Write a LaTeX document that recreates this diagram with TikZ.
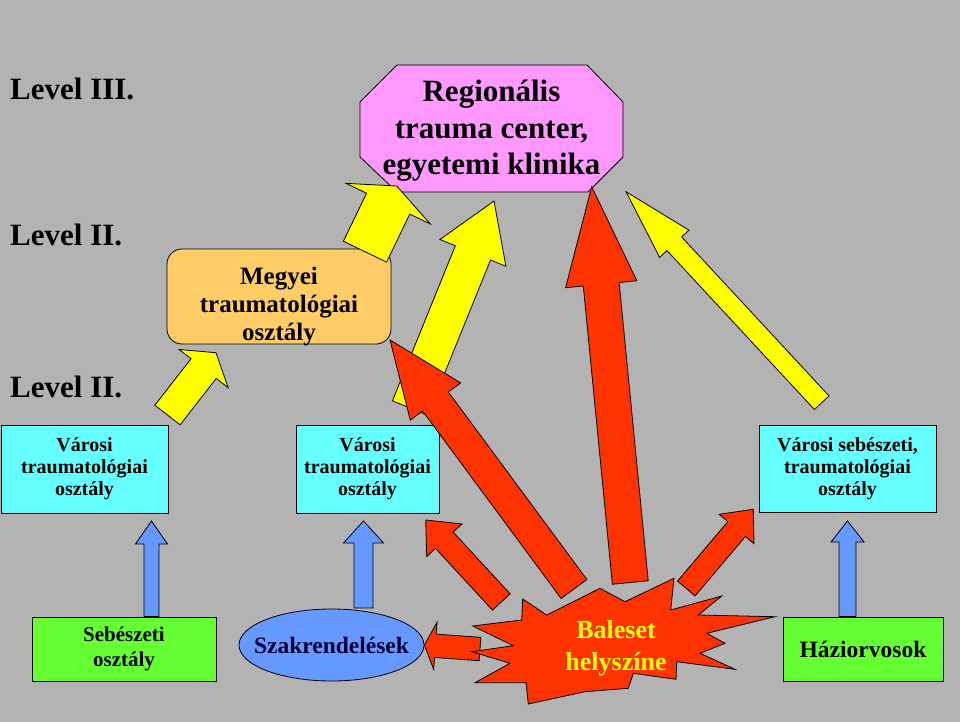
\documentclass[tikz,border=0pt]{standalone}
\usepackage{fontspec}
\setmainfont{Liberation Serif}
\usetikzlibrary{calc,shapes.geometric}
\definecolor{bgc}{RGB}{179,179,179}
\definecolor{pinkc}{RGB}{255,153,255}
\definecolor{orangec}{RGB}{255,204,102}
\definecolor{cyanc}{RGB}{102,255,255}
\definecolor{greenc}{RGB}{102,255,51}
\definecolor{bluec}{RGB}{102,153,255}
\definecolor{yellowc}{RGB}{255,255,0}
\definecolor{redc}{RGB}{255,51,0}
\definecolor{navyc}{RGB}{0,0,51}
\definecolor{txtyellow}{RGB}{255,255,0}
% #1 style, #2 tail, #3 tip, #4 half shaft width, #5 half head width, #6 head length
\newcommand\blkarrow[6]{%
  \draw[#1] let \p1=($(#3)-(#2)$), \n1={atan2(\y1,\x1)}, \n2={veclen(\x1,\y1)} in
    ($(#2)+(\n1+90:#4)$) -- ($(#2)+(\n1:\n2-#6)+(\n1+90:#4)$)
    -- ($(#2)+(\n1:\n2-#6)+(\n1+90:#5)$) -- (#3)
    -- ($(#2)+(\n1:\n2-#6)+(\n1-90:#5)$) -- ($(#2)+(\n1:\n2-#6)+(\n1-90:#4)$)
    -- ($(#2)+(\n1-90:#4)$) -- cycle;}
\begin{document}
\begin{tikzpicture}[x=1pt,y=1pt,
  outl/.style={draw=black, line width=0.8pt, line join=miter},
  ybar/.style={outl, fill=yellowc},
  rbar/.style={outl, fill=redc},
  bbar/.style={outl, fill=bluec},
  lvl/.style={anchor=base west, inner sep=0pt, font=\bfseries\fontsize{31}{36}\selectfont},
  cbox/.style={outl, fill=cyanc, align=center, inner sep=0pt, font=\bfseries\fontsize{20}{22}\selectfont},
  gbox/.style={outl, fill=greenc, align=center, inner sep=0pt}]
\fill[bgc] (0,0) rectangle (960,-722);
\useasboundingbox (0,0) rectangle (960,-722);

% level labels
\node[lvl] (l3) at (10,-100) {Level III.};
\node[lvl] (l2a) at (10,-245) {Level II.};
\node[lvl] (l2b) at (10,-397) {Level II.};

% regional trauma center (octagon)
\draw[outl, fill=pinkc] (397,-65) -- (587,-65) -- (623,-102) -- (623,-157) -- (588,-192)
  -- (397,-192) -- (360,-157) -- (360,-102) -- cycle;
\node[align=center, font=\bfseries\fontsize{31}{36.5}\selectfont] (rtc) at (491.5,-131)
  {Regionális\\trauma center,\\egyetemi klinika};

% county department
\node[outl, fill=orangec, rounded corners=15pt, minimum width=224pt, minimum height=95pt] (meg) at (279,-296.5) {};
\node[align=center, font=\bfseries\fontsize{25}{28}\selectfont] (megt) at (279,-307)
  {Megyei\\traumatológiai\\osztály};

% city departments
\node[cbox, minimum width=167pt, minimum height=88pt] (vc1) at (84.5,-469) {Városi\\traumatológiai\\osztály};
\node[cbox, minimum width=143pt, minimum height=88pt] (vc2) at (367.5,-469) {Városi\\traumatológiai\\osztály};
\node[cbox, minimum width=177pt, minimum height=87pt] (vc3) at (847.5,-468.5) {Városi sebészeti,\\traumatológiai\\osztály};

% bottom row
\node[gbox, minimum width=184pt, minimum height=64pt, font=\bfseries\fontsize{21}{25}\selectfont] (seb) at (124,-649) {Sebészeti\\osztály};
\node[gbox, minimum width=160pt, minimum height=64pt, font=\bfseries\fontsize{23.5}{28}\selectfont] (hazi) at (863,-649) {Háziorvosok};
\node[outl, fill=bluec, ellipse, minimum width=185pt, minimum height=72pt, inner sep=0pt, text=navyc,
  font=\bfseries\fontsize{23.5}{28}\selectfont] (szak) at (331.5,-645) {\makebox[0pt]{Szakrendelések}};

% arrow end points
\coordinate (y1s) at (167.5,-415);  \coordinate (y1e) at (216,-352.7);
\coordinate (y2s) at (365,-251.7);  \coordinate (y2e) at (396.7,-186);
\coordinate (y3s) at (410,-408);    \coordinate (y3e) at (494,-201);
\coordinate (y4s) at (821.7,-402.7); \coordinate (y4e) at (626,-191.7);
\coordinate (r1s) at (574,-589);    \coordinate (r1e) at (390,-340);
\coordinate (r2s) at (630.3,-582.5); \coordinate (r2e) at (591.7,-186.7);
\coordinate (r3s) at (501.3,-602);  \coordinate (r3e) at (425.7,-520);
\coordinate (r4s) at (686.3,-588.5); \coordinate (r4e) at (753.3,-509.3);
\coordinate (r5s) at (480,-649);    \coordinate (r5e) at (szak.east);
\coordinate (b1s) at (seb.north -| 151.5,0);  \coordinate (b1e) at (151.5,-521);
\coordinate (b2s) at (363.5,-608);  \coordinate (b2e) at (363.5,-521);
\coordinate (b3s) at (hazi.north -| 847.5,0); \coordinate (b3e) at (847.5,-521);

% blue arrows
\blkarrow{bbar}{b1s}{b1e}{7.5}{16}{23}
\blkarrow{bbar}{b2s}{b2e}{9.5}{20}{22}
\blkarrow{bbar}{b3s}{b3e}{8.5}{16.5}{21}

% yellow arrows
\blkarrow{ybar}{y1s}{y1e}{16}{31}{20}
\blkarrow{ybar}{y2s}{y2e}{24}{46.7}{19.6}
\blkarrow{ybar}{y3s}{y3e}{19}{35.6}{56}
\blkarrow{ybar}{y4s}{y4e}{10}{20}{71}

% red arrows
\blkarrow{rbar}{r1s}{r1e}{16}{31.3}{76.5}
\blkarrow{rbar}{r2s}{r2e}{18}{35.8}{98}
\blkarrow{rbar}{r3s}{r3e}{12}{24}{27.5}
\blkarrow{rbar}{r4s}{r4e}{11.5}{22.8}{25.7}
\blkarrow{rbar}{r5s}{r5e}{11.7}{23.7}{11}

% accident site (starburst)
\draw[outl, fill=redc] (522.7,-599) -- (546.7,-615) -- (600,-588.3) -- (625,-601.7) -- (674,-578.3)
  -- (670.7,-610) -- (721.7,-596) -- (698.3,-615) -- (775,-616.7) -- (706.7,-633.3) -- (725,-643.3)
  -- (700,-653.3) -- (735,-669.3) -- (676.7,-661.7) -- (676,-679.3) -- (633.3,-673.3) -- (628.3,-688.3)
  -- (585,-691.7) -- (528.3,-704) -- (526,-682.7) -- (475,-682.7) -- (510,-663.3) -- (471.7,-651.7)
  -- (513.3,-645.7) -- (472.7,-626) -- (521.7,-620) -- cycle;
\node[align=center, text=txtyellow, font=\bfseries\fontsize{26}{32}\selectfont] (bal) at (616,-648)
  {Baleset\\helyszíne};
\end{tikzpicture}
\end{document}
